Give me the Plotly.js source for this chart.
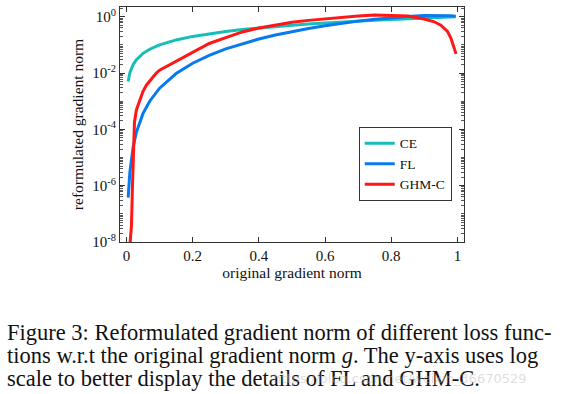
<!DOCTYPE html>
<html>
<head>
<meta charset="utf-8">
<script src="https://cdn.plot.ly/plotly-3.0.1.min.js"></script>
<style>
html,body{margin:0;padding:0;background:#fff;}
#chart{width:568px;height:394px;}
</style>
</head>
<body>
<div id="chart"></div>
<script>
// original gradient norm g (x) and reformulated gradient norm (y)
var ceX = [0.005, 0.01, 0.02, 0.03, 0.05, 0.07, 0.1, 0.15, 0.2, 0.25, 0.3, 0.35, 0.4, 0.45, 0.5, 0.55, 0.6, 0.65, 0.7, 0.75, 0.8, 0.85, 0.9, 0.95, 0.98, 0.995];
var ceY = [0.005, 0.01, 0.02, 0.03, 0.05, 0.07, 0.1, 0.15, 0.2, 0.25, 0.3, 0.35, 0.4, 0.45, 0.5, 0.55, 0.6, 0.65, 0.7, 0.75, 0.8, 0.85, 0.9, 0.95, 0.98, 0.995];

var flX = [0.005, 0.01, 0.02, 0.03, 0.05, 0.07, 0.1, 0.15, 0.2, 0.25, 0.3, 0.35, 0.4, 0.45, 0.5, 0.55, 0.6, 0.65, 0.7, 0.75, 0.8, 0.85, 0.9, 0.95, 0.98, 0.995];
var flY = [3.74e-7, 2.99e-6, 2.38e-5, 8.02e-5, 3.69e-4, 1.00e-3, 2.90e-3, 9.59e-3, 0.0223, 0.0426, 0.0719, 0.111, 0.162, 0.224, 0.298, 0.384, 0.480, 0.585, 0.697, 0.812, 0.924, 1.025, 1.102, 1.128, 1.091, 1.038];

var ghmX = [0.009, 0.015, 0.018, 0.021, 0.024, 0.03, 0.04, 0.05, 0.06, 0.075, 0.09, 0.1, 0.12, 0.15, 0.2, 0.25, 0.3, 0.35, 0.4, 0.45, 0.5, 0.55, 0.6, 0.65, 0.7, 0.75, 0.8, 0.85, 0.9, 0.93, 0.95, 0.97, 0.98, 0.99, 0.996];
var ghmY = [5.0e-9, 4.0e-8, 1.0e-6, 2.0e-5, 1.8e-4, 5.0e-4, 1.12e-3, 2.24e-3, 3.7e-3, 6.3e-3, 0.0100, 0.0126, 0.0170, 0.0269, 0.0562, 0.112, 0.182, 0.288, 0.398, 0.513, 0.631, 0.741, 0.851, 0.955, 1.07, 1.15, 1.12, 1.05, 0.832, 0.661, 0.501, 0.302, 0.178, 0.0794, 0.0479];

var seriesNames = ["CE", "FL", "GHM-C"];
var xTickVals = [0, 0.2, 0.4, 0.6, 0.8, 1];
var xTickText = ["0", "0.2", "0.4", "0.6", "0.8", "1"];
var yTickVals = [1e-8, 1e-6, 1e-4, 1e-2, 1];
var yTickText = ["10<sup>-8</sup>", "10<sup>-6</sup>", "10<sup>-4</sup>", "10<sup>-2</sup>", "10<sup>0</sup>"];

var xTitle = "original gradient norm";
var yTitle = "reformulated gradient norm";
var captionLines = [
  "Figure 3: Reformulated gradient norm of different loss func-",
  "tions w.r.t the original gradient norm <i>g</i>. The y-axis uses log",
  "scale to better display the details of FL and GHM-C."
];
var watermark = "https://blog.csdn.net/weixin_36670529";

var FONT = "Liberation Serif, Times New Roman, serif";

var traces = [
  {x: ceX, y: ceY, name: seriesNames[0], mode: "lines", line: {color: "rgb(22,190,186)", width: 3}},
  {x: flX, y: flY, name: seriesNames[1], mode: "lines", line: {color: "rgb(8,122,240)", width: 3}},
  {x: ghmX, y: ghmY, name: seriesNames[2], mode: "lines", line: {color: "rgb(255,22,22)", width: 3}}
];

var annotations = [];
var capY = [-0.383, -0.481, -0.579];
for (var i = 0; i < captionLines.length; i++) {
  annotations.push({
    text: captionLines[i], xref: "paper", yref: "paper", x: -0.335, y: capY[i],
    xanchor: "left", yanchor: "middle", showarrow: false,
    font: {family: FONT, size: 22.5, color: "#111"}
  });
}
annotations.push({
  text: watermark, xref: "paper", yref: "paper", x: 0.44, y: -0.579,
  xanchor: "left", yanchor: "middle", showarrow: false,
  font: {family: "DejaVu Sans, sans-serif", size: 13, color: "rgba(190,190,190,0.5)"}
});

var layout = {
  width: 568, height: 394,
  margin: {l: 120, r: 104, t: 7, b: 152, pad: 0},
  paper_bgcolor: "#fff", plot_bgcolor: "#fff",
  showlegend: true,
  legend: {
    x: 0.694, y: 0.49, xanchor: "left", yanchor: "top",
    bgcolor: "#fff", bordercolor: "#333", borderwidth: 1,
    font: {family: FONT, size: 13.5, color: "#111"},
    tracegroupgap: 0
  },
  xaxis: {
    range: [-0.0197, 1.02],
    tickmode: "array", tickvals: xTickVals, ticktext: xTickText,
    ticks: "inside", ticklen: 5, tickcolor: "#333",
    showline: true, linecolor: "#333", linewidth: 1, mirror: "ticks",
    showgrid: false, zeroline: false,
    tickfont: {family: FONT, size: 15, color: "#111"},
    title: {text: xTitle, font: {family: FONT, size: 15.5, color: "#111"}, standoff: 3}
  },
  yaxis: {
    type: "log", range: [-8, 0.345],
    tickmode: "array", tickvals: yTickVals, ticktext: yTickText,
    ticks: "inside", ticklen: 5, tickcolor: "#333",
    showline: true, linecolor: "#333", linewidth: 1, mirror: "ticks",
    showgrid: false, zeroline: false,
    minor: {dtick: "D1", ticks: "inside", ticklen: 3, tickcolor: "#555", showgrid: false},
    tickfont: {family: FONT, size: 15, color: "#111"},
    title: {text: yTitle, font: {family: FONT, size: 15.5, color: "#111"}, standoff: 4}
  },
  annotations: annotations
};

Plotly.newPlot("chart", traces, layout, {displayModeBar: false, staticPlot: true});
</script>
</body>
</html>
